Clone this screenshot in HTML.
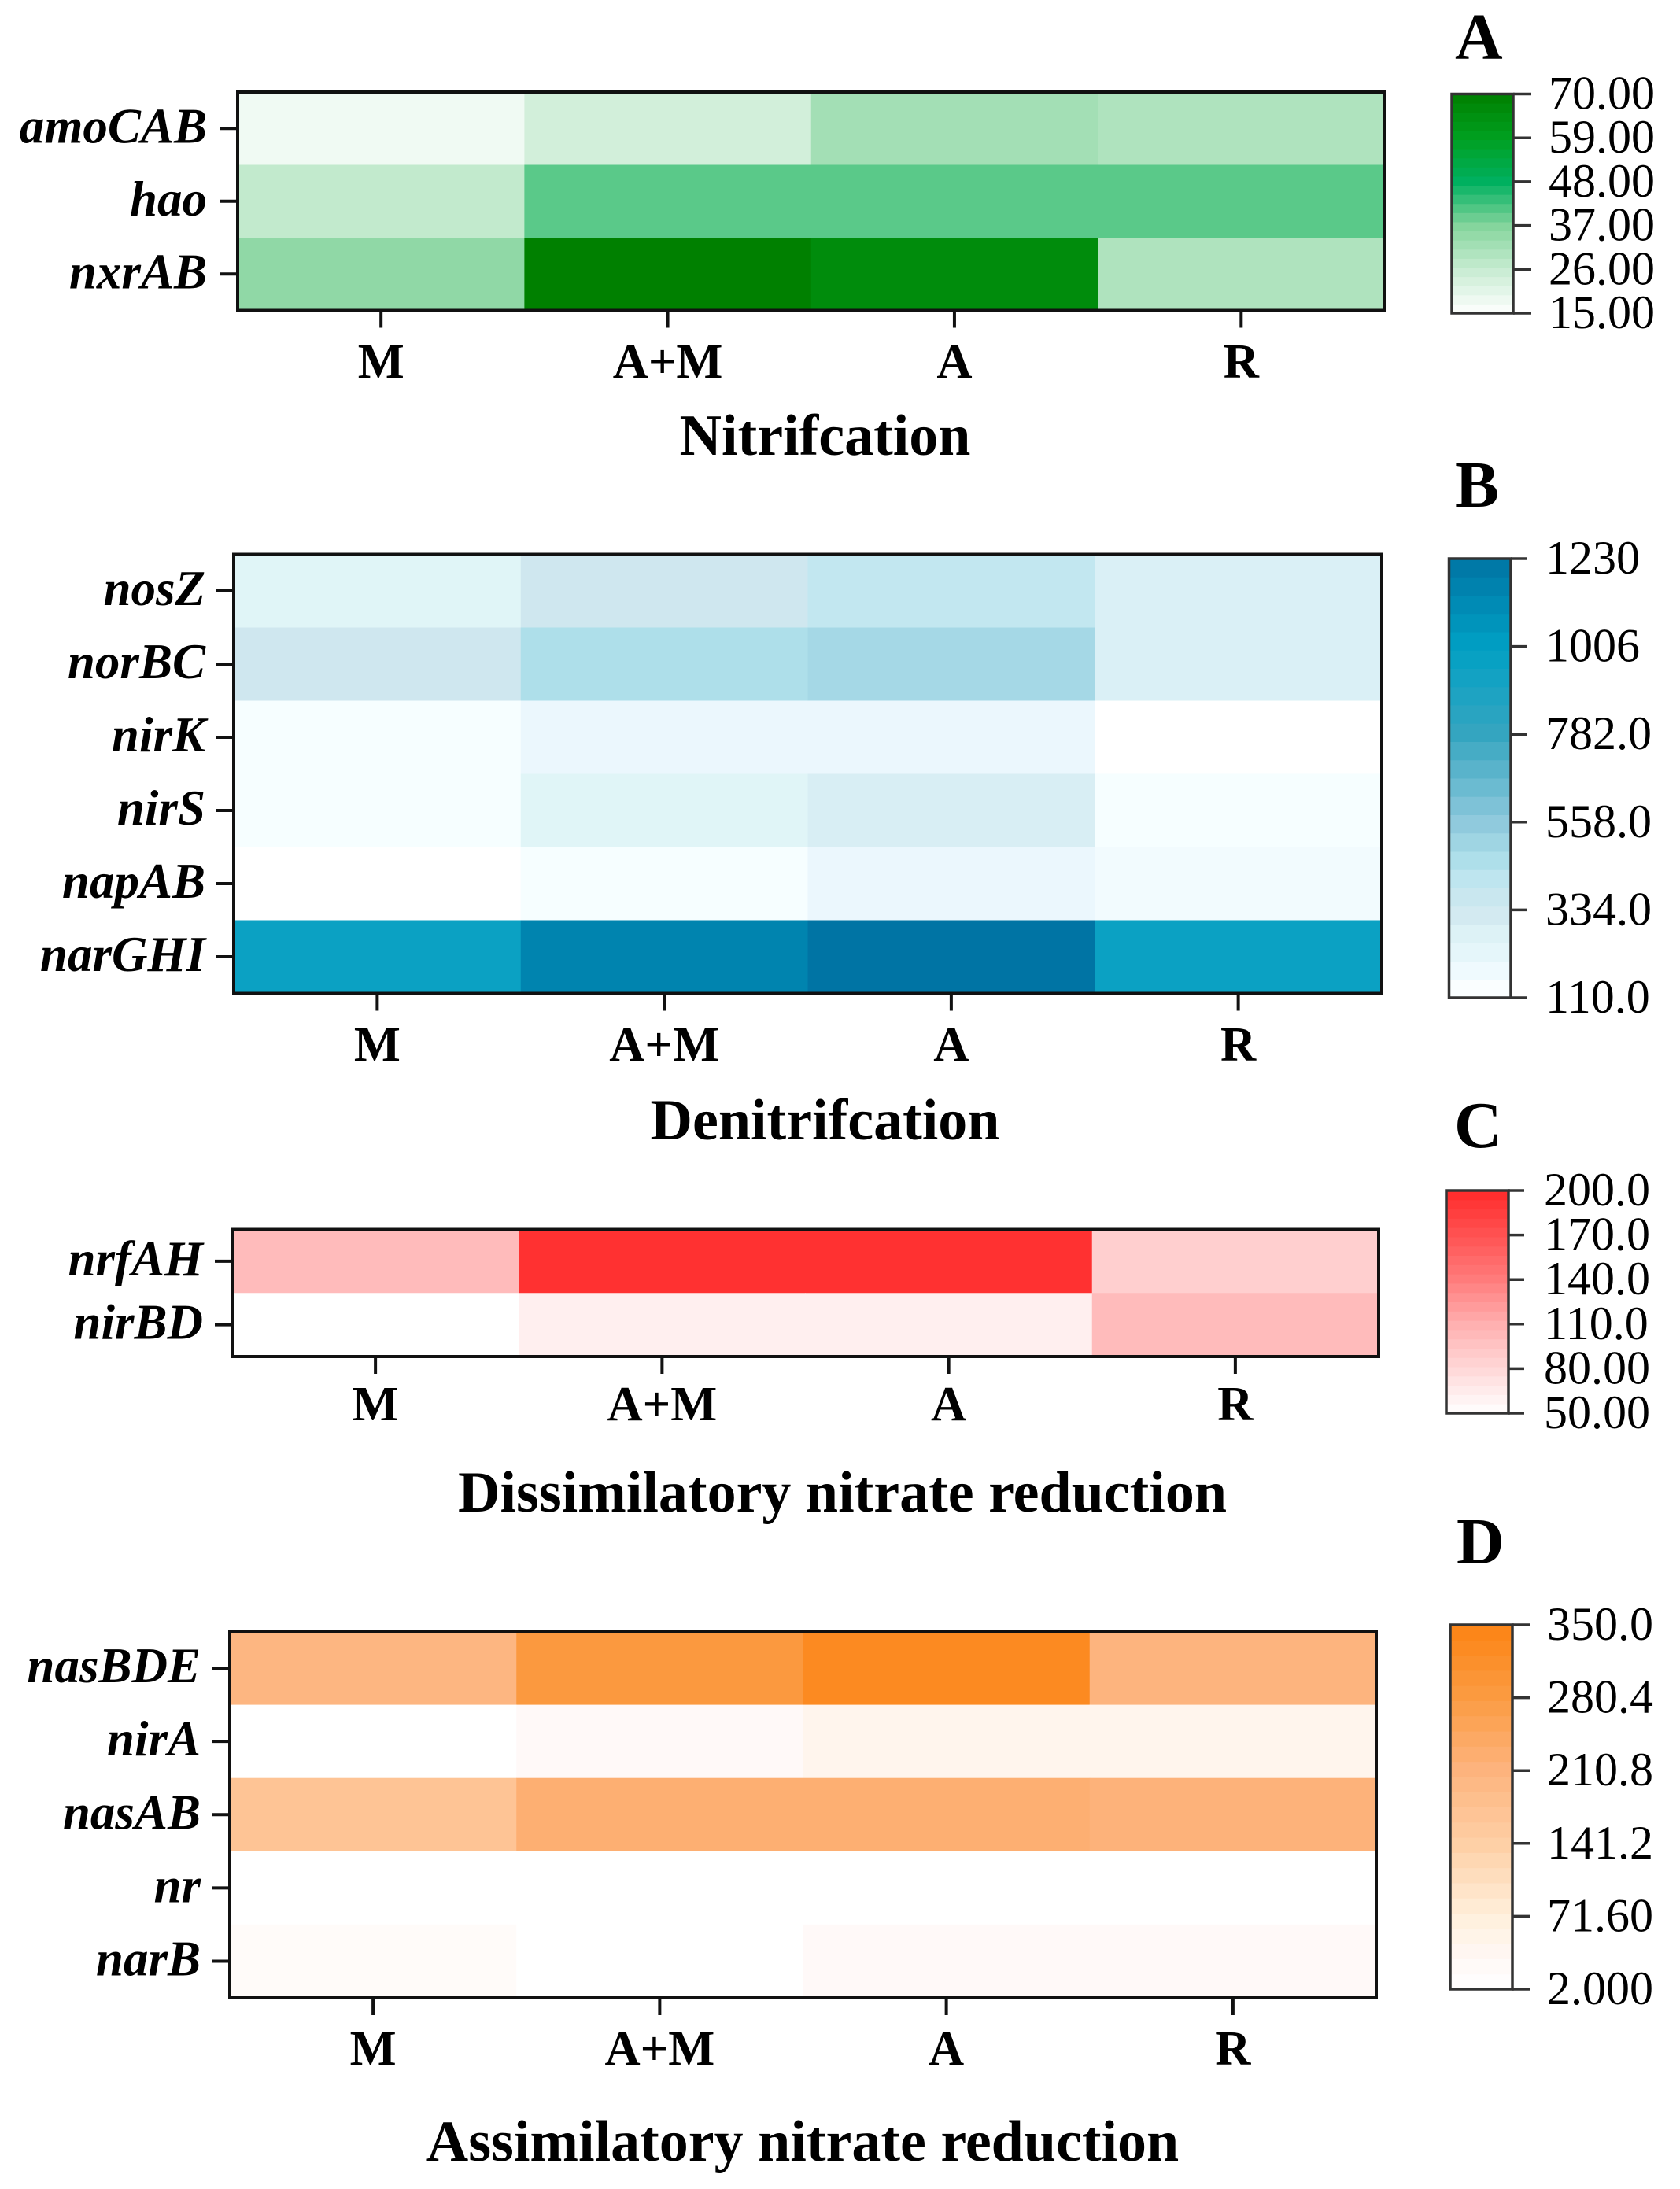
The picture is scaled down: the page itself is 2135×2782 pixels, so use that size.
<!DOCTYPE html>
<html lang="en">
<head>
<meta charset="utf-8">
<title>Nitrogen cycle gene heatmaps</title>
<style>
html,body{margin:0;padding:0;background:#fff;}
svg{display:block;}
text{font-family:"Liberation Serif","Times New Roman",serif;fill:#000;}
</style>
</head>
<body>
<svg id="figure" xmlns="http://www.w3.org/2000/svg" width="2135" height="2782" viewBox="0 0 2135 2782"></svg>
<script>
// ---- data: shared categories ----
const treatments = ['M', 'A+M', 'A', 'R'];

// ---- Panel A: nitrification ----
const genesA = ['amoCAB', 'hao', 'nxrAB'];
const valuesA = [
  [18, 24, 32, 30],
  [27, 40.5, 40.5, 40.5],
  [35, 70, 66, 30]
];
const ticksA = ['70.00', '59.00', '48.00', '37.00', '26.00', '15.00'];

// ---- Panel B: denitrification ----
const genesB = ['nosZ', 'norBC', 'nirK', 'nirS', 'napAB', 'narGHI'];
const valuesB = [
  [250, 335, 400, 290],
  [334, 460, 490, 290],
  [150, 200, 200, 110],
  [150, 250, 300, 150],
  [110, 150, 200, 170],
  [960, 1150, 1230, 960]
];
const ticksB = ['1230', '1006', '782.0', '558.0', '334.0', '110.0'];

// ---- Panel C: dissimilatory nitrate reduction ----
const genesC = ['nrfAH', 'nirBD'];
const valuesC = [
  [102, 195, 195, 87],
  [50, 62, 62, 102]
];
const ticksC = ['200.0', '170.0', '140.0', '110.0', '80.00', '50.00'];

// ---- Panel D: assimilatory nitrate reduction ----
const genesD = ['nasBDE', 'nirA', 'nasAB', 'nr', 'narB'];
const valuesD = [
  [205, 285, 330, 210],
  [2, 25, 45, 45],
  [170, 225, 225, 215],
  [2, 2, 2, 2],
  [20, 2, 25, 25]
];
const ticksD = ['350.0', '280.4', '210.8', '141.2', '71.60', '2.000'];

// ---- colour ramps (value, colour) ----
const rampA = [[15,'#ffffff'],[26,'#c8ecd2'],[37,'#84d49c'],[48,'#00b060'],[59,'#00a020'],[70,'#008000']];
const rampB = [[110,'#ffffff'],[150,'#f6feff'],[200,'#ebf7fd'],[250,'#e0f5f7'],[290,'#daf0f6'],[334,'#cfe7ef'],[400,'#c2e7f0'],[460,'#aedfea'],[558,'#8fc9dc'],[782,'#35a5c0'],[1006,'#00a0c4'],[1230,'#0074a4']];
const rampC = [[50,'#ffffff'],[80,'#ffd8d8'],[110,'#ffb0b0'],[140,'#ff7c7c'],[170,'#ff5252'],[200,'#ff2a2a']];
const rampD = [[2,'#ffffff'],[30,'#fff8f6'],[71.6,'#fff0dc'],[141.2,'#fecfa5'],[210.8,'#fdb47e'],[280.4,'#fb9b42'],[350,'#fc8314']];

// ---- layout ----
const panels = [
  { key:'nitrification', title:'Nitrifcation', letter:'A', genes:genesA, values:valuesA, ticks:ticksA, ramp:rampA,
    left:302, right:1759.5, top:117, bottom:394.5, labelRight:263, xBase:480, titleX:1048.5, titleBase:578,
    barLeft:1845, barRight:1923, barTop:119.5, barBottom:398, tickEnd:1946, barLabelX:1968, letterX:1849, letterBase:75 },
  { key:'denitrification', title:'Denitrifcation', letter:'B', genes:genesB, values:valuesB, ticks:ticksB, ramp:rampB,
    left:297, right:1756, top:704.5, bottom:1262.5, labelRight:261, xBase:1348, titleX:1048.5, titleBase:1448,
    barLeft:1841.5, barRight:1920, barTop:710, barBottom:1268, tickEnd:1941, barLabelX:1964, letterX:1849, letterBase:644 },
  { key:'dissimilatory', title:'Dissimilatory nitrate reduction', letter:'C', genes:genesC, values:valuesC, ticks:ticksC, ramp:rampC,
    left:295, right:1752, top:1562.5, bottom:1724, labelRight:258, xBase:1805, titleX:1070.5, titleBase:1921,
    barLeft:1838, barRight:1917, barTop:1513, barBottom:1796, tickEnd:1937, barLabelX:1962, letterX:1848, letterBase:1458 },
  { key:'assimilatory', title:'Assimilatory nitrate reduction', letter:'D', genes:genesD, values:valuesD, ticks:ticksD, ramp:rampD,
    left:292, right:1749, top:2073.5, bottom:2539, labelRight:255, xBase:2624, titleX:1020, titleBase:2746,
    barLeft:1843, barRight:1922, barTop:2065, barBottom:2528, tickEnd:1944, barLabelX:1966, letterX:1851, letterBase:1987 }
];

const SVGNS = 'http://www.w3.org/2000/svg';
const figure = document.getElementById('figure');

function mk(tag, attrs, parent, txt) {
  const el = document.createElementNS(SVGNS, tag);
  for (const k in attrs) el.setAttribute(k, attrs[k]);
  if (txt !== undefined) el.textContent = txt;
  parent.appendChild(el);
  return el;
}
function hexToRgb(h) {
  return [parseInt(h.slice(1,3),16), parseInt(h.slice(3,5),16), parseInt(h.slice(5,7),16)];
}
function colorFor(ramp, v) {
  if (v <= ramp[0][0]) return ramp[0][1];
  for (let i = 1; i < ramp.length; i++) {
    if (v <= ramp[i][0]) {
      const t = (v - ramp[i-1][0]) / (ramp[i][0] - ramp[i-1][0]);
      const a = hexToRgb(ramp[i-1][1]);
      const b = hexToRgb(ramp[i][1]);
      const c = a.map((x, j) => Math.round(x + (b[j] - x) * t));
      return 'rgb(' + c.join(',') + ')';
    }
  }
  return ramp[ramp.length-1][1];
}

panels.forEach(function (p) {
  const g = mk('g', {}, figure);
  
  

  const colW = (p.right - p.left) / treatments.length;
  const rowH = (p.bottom - p.top) / p.genes.length;
  const xAt = function (i) { return p.left + colW * i; };
  const yAt = function (i) { return p.top + rowH * i; };

  // heatmap cells
  p.values.forEach(function (row, r) {
    row.forEach(function (v, c) {
      const cell = mk('rect', { x:xAt(c), y:yAt(r), width:colW + 0.5, height:rowH + 0.5, fill:colorFor(p.ramp, v) }, g);
      
      
    });
  });

  // plot frame
  const frame = mk('rect', { x:p.left, y:p.top, width:p.right - p.left, height:p.bottom - p.top, fill:'none', stroke:'#111', 'stroke-width':4 }, g);
  
  

  // y axis ticks and labels
  p.genes.forEach(function (gene, r) {
    const y = yAt(r + 0.5);
    const tick = mk('line', { x1:p.left - 22, x2:p.left, y1:y, y2:y, stroke:'#111', 'stroke-width':4 }, g);
    
    
    const label = mk('text', { x:p.labelRight, y:y + 18, 'text-anchor':'end', 'font-size':63, 'font-weight':'bold', 'font-style':'italic' }, g, gene);
    
    
  });

  // x axis ticks and labels
  treatments.forEach(function (name, c) {
    const x = xAt(c + 0.5);
    const tick = mk('line', { x1:x, x2:x, y1:p.bottom, y2:p.bottom + 22, stroke:'#111', 'stroke-width':4 }, g);
    
    
    const label = mk('text', { x:x, y:p.xBase, 'text-anchor':'middle', 'font-size':62.5, 'font-weight':'bold' }, g, name);
    
    
  });

  // panel title
  const title = mk('text', { x:p.titleX, y:p.titleBase, 'text-anchor':'middle', 'font-size':74, 'font-weight':'bold' }, g, p.title);
  
  

  // panel letter
  const letter = mk('text', { x:p.letterX, y:p.letterBase, 'font-size':84, 'font-weight':'bold' }, g, p.letter);
  
  

  // colour bar
  const vMax = Number(p.ticks[0]);
  const vMin = Number(p.ticks[p.ticks.length - 1]);
  const barY = function (v) { return p.barBottom - (v - vMin) / (vMax - vMin) * (p.barBottom - p.barTop); };
  const bands = 24;
  for (let i = 0; i < bands; i++) {
    const v0 = vMin + (vMax - vMin) * i / bands;
    const v1 = vMin + (vMax - vMin) * (i + 1) / bands;
    const band = mk('rect', { x:p.barLeft, y:barY(v1), width:p.barRight - p.barLeft, height:barY(v0) - barY(v1) + 0.5, fill:colorFor(p.ramp, (v0 + v1) / 2) }, g);
    
    
  }
  const barFrame = mk('rect', { x:p.barLeft, y:p.barTop, width:p.barRight - p.barLeft, height:p.barBottom - p.barTop, fill:'none', stroke:'#333', 'stroke-width':3.5 }, g);
  
  

  p.ticks.forEach(function (t) {
    const y = barY(Number(t));
    const tick = mk('line', { x1:p.barRight, x2:p.tickEnd, y1:y, y2:y, stroke:'#333', 'stroke-width':3.5 }, g);
    
    
    const label = mk('text', { x:p.barLabelX, y:y + 19, 'text-anchor':'start', 'font-size':60 }, g, t);
    
    
  });
});
</script>
</body>
</html>
